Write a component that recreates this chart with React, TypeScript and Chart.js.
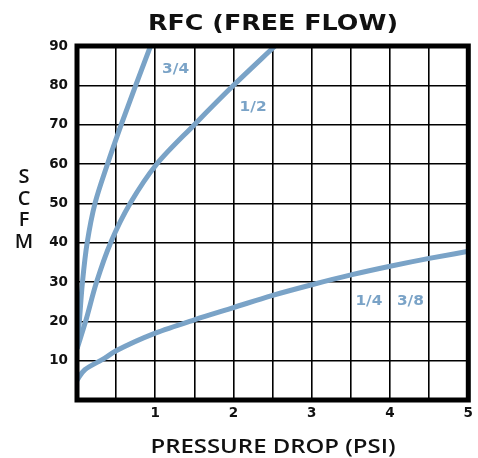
import React, { useEffect, useRef } from "react";
import { Chart, registerables } from "chart.js";

Chart.register(...registerables);

const TITLE = "RFC (FREE FLOW)";
const X_TITLE = "PRESSURE DROP (PSI)";
const Y_TITLE = ["S", "C", "F", "M"];
const LINE_COLOR = "#7aa3c7";

const curve34X = [0, 0.03, 0.07, 0.13, 0.23, 0.39, 0.565, 0.75, 0.94];
const curve34Y = [13, 20, 30, 40, 50, 60, 70, 80, 90];
const curve12X = [0, 0.11, 0.25, 0.43, 0.68, 1.02, 1.5, 2.0, 2.53];
const curve12Y = [13, 20, 30, 40, 50, 60, 70, 80, 90];
const curve14X = [0, 0.1, 0.35, 0.5, 1, 1.5, 2, 2.5, 3, 3.5, 4, 4.5, 5];
const curve14Y = [5, 7.7, 10.6, 12.5, 17, 20.4, 23.5, 26.6, 29.3, 31.8, 34, 36, 37.8];

const labelTexts = ["3/4", "1/2", "1/4", "3/8"];
const labelX = [1.26, 2.25, 3.73, 4.26];
const labelY = [84.4, 74.7, 25.3, 25.3];

const toPoints = (xs: number[], ys: number[]) => xs.map((x, i) => ({ x, y: ys[i] }));

function drawStretched(ctx: CanvasRenderingContext2D, text: string, cx: number, baseline: number, width: number) {
  const w = ctx.measureText(text).width;
  ctx.save();
  ctx.translate(cx, baseline);
  ctx.scale(width / w, 1);
  ctx.textAlign = "center";
  ctx.textBaseline = "alphabetic";
  ctx.fillText(text, 0, 0);
  ctx.restore();
}

const decorPlugin = {
  id: "decor",
  afterDatasetsDraw(chart: any) {
    const { ctx, chartArea, scales } = chart;
    ctx.save();
    // frame
    ctx.strokeStyle = "#000";
    ctx.lineWidth = 5;
    ctx.strokeRect(chartArea.left, chartArea.top, chartArea.right - chartArea.left, chartArea.bottom - chartArea.top);
    // curve labels
    ctx.fillStyle = LINE_COLOR;
    ctx.font = "bold 14px 'DejaVu Sans'";
    labelTexts.forEach((t, i) => {
      drawStretched(ctx, t, scales.x.getPixelForValue(labelX[i]), scales.y.getPixelForValue(labelY[i]) + 5, 27);
    });
    // title
    ctx.fillStyle = "#111";
    ctx.font = "bold 21px 'DejaVu Sans'";
    drawStretched(ctx, TITLE, 273, 30, 250);
    // x title
    ctx.font = "600 20px 'Open Sans'";
    ctx.fillStyle = "#111";
    drawStretched(ctx, X_TITLE, 273, 453, 245);
    // y title
    ctx.font = "600 20px 'Open Sans'";
    ctx.textAlign = "center";
    ctx.textBaseline = "alphabetic";
    Y_TITLE.forEach((c, i) => {
      ctx.fillText(c, 24, 183 + i * 21.5);
    });
    ctx.restore();
  },
};

export default function App() {
  const ref = useRef<HTMLCanvasElement>(null);
  useEffect(() => {
    if (!ref.current) return;
    const ds = (xs: number[], ys: number[]) => ({
      data: toPoints(xs, ys),
      borderColor: LINE_COLOR,
      borderWidth: 5,
      pointRadius: 0,
      cubicInterpolationMode: "monotone" as const,
      fill: false,
    });
    const tickFont = { family: "'DejaVu Sans'", size: 13.5, weight: "bold" as const };
    const chart = new Chart(ref.current, {
      type: "line",
      data: {
        datasets: [ds(curve34X, curve34Y), ds(curve12X, curve12Y), ds(curve14X, curve14Y)],
      },
      options: {
        indexAxis: "y",
        animation: false,
        responsive: false,
        maintainAspectRatio: false,
        layout: { padding: { top: 46, right: 9, left: 0, bottom: 0 } },
        plugins: { legend: { display: false }, tooltip: { enabled: false }, title: { display: false } },
        scales: {
          x: {
            type: "linear",
            min: 0,
            max: 5,
            afterFit: (s: any) => { s.height = 58; },
            grid: { color: "#000", lineWidth: 1.6, drawTicks: false },
            border: { display: false },
            ticks: {
              stepSize: 0.5,
              padding: 5,
              color: "#111",
              font: tickFont,
              callback: (v: any) => (Number(v) > 0 && Number.isInteger(Number(v)) ? String(v) : ""),
            },
          },
          y: {
            type: "linear",
            min: 0,
            max: 90,
            afterFit: (s: any) => { s.width = 77; },
            grid: { color: "#000", lineWidth: 1.6, drawTicks: false },
            border: { display: false },
            ticks: {
              stepSize: 10,
              padding: 9,
              color: "#111",
              font: tickFont,
              callback: (v: any) => (Number(v) > 0 ? String(v) : ""),
            },
          },
        },
      },
      plugins: [decorPlugin],
    });
    return () => chart.destroy();
  }, []);
  return (
    <div style={{ position: "fixed", left: 0, top: 0, width: 478, height: 458, background: "#fff" }}>
      <canvas ref={ref} width={478} height={458} style={{ width: 478, height: 458 }} />
    </div>
  );
}
